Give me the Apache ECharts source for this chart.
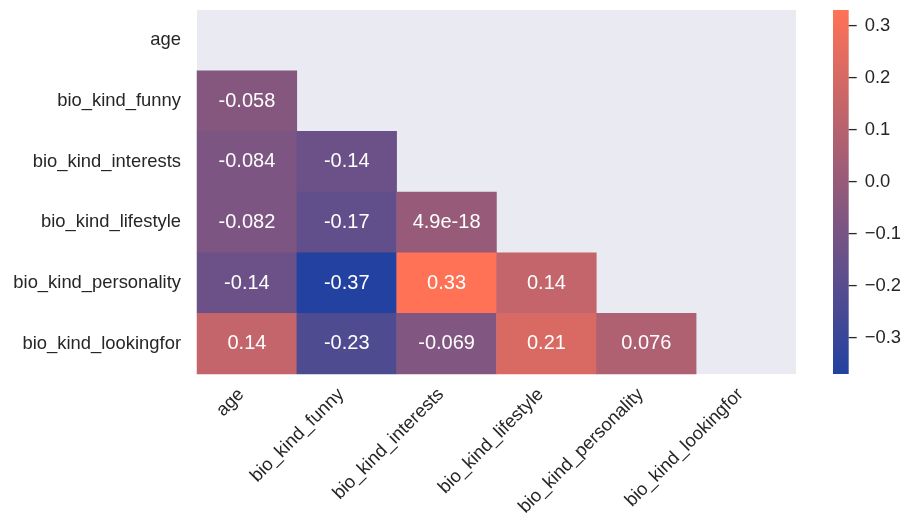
<!DOCTYPE html>
<html>
<head>
<meta charset="utf-8">
<script src="https://cdn.jsdelivr.net/npm/echarts@6/dist/echarts.min.js"></script>
<style>html,body{margin:0;padding:0;background:#fff}#c{width:904px;height:521px}</style>
</head>
<body>
<div id="c"></div>
<script>
var categories = ['age','bio_kind_funny','bio_kind_interests','bio_kind_lifestyle','bio_kind_personality','bio_kind_lookingfor'];
// lower triangle rows (row index -> values for columns 0..row-1)
var rowFunny = [-0.058];
var rowInterests = [-0.084, -0.14];
var rowLifestyle = [-0.082, -0.17, 4.9e-18];
var rowPersonality = [-0.14, -0.37, 0.33, 0.14];
var rowLookingfor = [0.14, -0.23, -0.069, 0.21, 0.076];
var colorMin = -0.37;
var colorMax = 0.33;
var colorTicks = [-0.3, -0.2, -0.1, 0.0, 0.1, 0.2, 0.3];
var lowColor = '#2241a0';
var highColor = '#ff7256';

var rows = [[], rowFunny, rowInterests, rowLifestyle, rowPersonality, rowLookingfor];
var data = [];
rows.forEach(function (r, yi) {
  r.forEach(function (v, xi) { data.push([xi, yi, v]); });
});

function fmt(v) {
  if (v !== 0 && Math.abs(v) < 1e-4) return v.toExponential(1);
  return Number(v.toPrecision(2)).toString();
}

var FONT = "'Liberation Sans', Arial, sans-serif";
var TXT = '#262626';

var chart = echarts.init(document.getElementById('c'));
chart.setOption({
  animation: false,
  textStyle: { fontFamily: FONT },
  grid: [
    { left: 197, top: 10, width: 599, height: 364, show: true, backgroundColor: '#eaeaf2', borderWidth: 0, containLabel: false },
    { left: 833, top: 10, width: 18, height: 364, show: false, containLabel: false }
  ],
  xAxis: [
    {
      type: 'category', data: categories, gridIndex: 0,
      axisLine: { show: false }, axisTick: { show: false }, splitLine: { show: false },
      axisLabel: { rotate: 45, margin: 12, padding: [0, 8, 0, 0], fontSize: 18.4, color: TXT, fontFamily: FONT, interval: 0 }
    },
    { type: 'value', gridIndex: 1, min: 0, max: 1, show: false }
  ],
  yAxis: [
    {
      type: 'category', data: categories, gridIndex: 0, inverse: true,
      axisLine: { show: false }, axisTick: { show: false }, splitLine: { show: false },
      axisLabel: { margin: 16, fontSize: 18.4, color: TXT, fontFamily: FONT, interval: 0 }
    },
    {
      type: 'value', gridIndex: 1, position: 'right', min: colorMin, max: colorMax,
      axisLine: { show: false }, splitLine: { show: false },
      axisTick: { show: false },
      axisLabel: {
        margin: 16, fontSize: 18.4, color: TXT, fontFamily: FONT, customValues: colorTicks,
        formatter: function (v) { return v.toFixed(1).replace('-', '\u2212').replace('\u22120.0', '0.0'); }
      }
    }
  ],
  visualMap: {
    show: false, type: 'continuous', min: colorMin, max: colorMax, seriesIndex: 0, dimension: 2,
    inRange: { color: [lowColor, highColor] }
  },
  series: [
    {
      type: 'heatmap', xAxisIndex: 0, yAxisIndex: 0, data: data,
      label: { show: true, color: '#ffffff', fontSize: 20, fontFamily: FONT, formatter: function (p) { return fmt(p.value[2]); } },
      itemStyle: { borderWidth: 0 },
      emphasis: { disabled: true }
    },
    {
      type: 'custom', xAxisIndex: 1, yAxisIndex: 1, data: [[colorMin, colorMax]], silent: true,
      renderItem: function (params, api) {
        var p1 = api.coord([0, api.value(1)]);
        var p2 = api.coord([1, api.value(0)]);
        return {
          type: 'rect',
          shape: { x: p1[0], y: p1[1], width: p2[0] - p1[0], height: p2[1] - p1[1] },
          style: { fill: new echarts.graphic.LinearGradient(0, 0, 0, 1, [{ offset: 0, color: highColor }, { offset: 1, color: lowColor }]) }
        };
      }
    },
    {
      type: 'custom', xAxisIndex: 1, yAxisIndex: 1, silent: true,
      data: colorTicks.map(function (t) { return [1, t]; }),
      renderItem: function (params, api) {
        var p = api.coord([1, api.value(1)]);
        return {
          type: 'line',
          shape: { x1: p[0], y1: p[1], x2: p[0] + 8, y2: p[1] },
          style: { stroke: TXT, lineWidth: 1.3 }
        };
      }
    }
  ]
});
</script>
</body>
</html>
